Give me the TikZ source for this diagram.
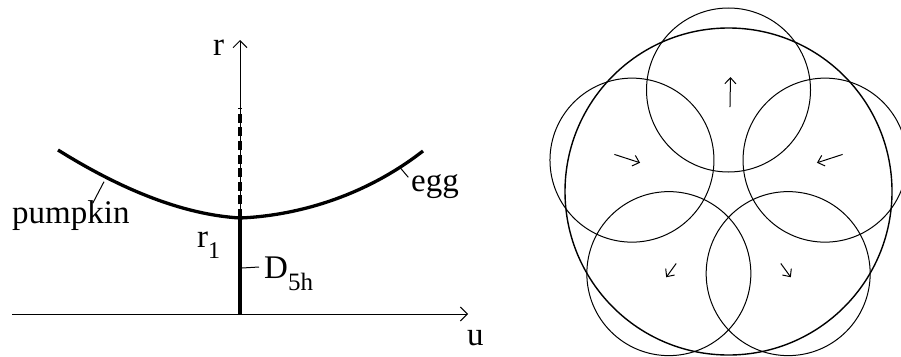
\documentclass[tikz,border=0pt]{standalone}
\usepackage{fontspec}
\setmainfont{Liberation Serif}
\usetikzlibrary{arrows.meta}
\tikzset{
  thinln/.style={line width=1pt},
  thickln/.style={line width=3.3pt},
  axisarrow/.style={thinln,-{Straight Barb[length=7pt,width=14pt]}},
  modearrow/.style={thinln,-{Straight Barb[length=6pt,width=11pt]}},
  lbl/.style={inner sep=0pt,anchor=base west,font=\fontsize{33}{40}\selectfont},
  smallcirc/.style={line width=1pt},
  bigcirc/.style={line width=1.4pt}
}
\begin{document}
\begin{tikzpicture}[x=1pt,y=-1pt]
\useasboundingbox (0,0) rectangle (901,356);
\clip (0,0) rectangle (901,356);
% ---------- left panel ----------
\coordinate (O) at (240,314);
\coordinate (rtop) at (240,40);
\coordinate (ustart) at (12,314);
\coordinate (uend) at (468,314);
\coordinate (m) at (240,218);
\coordinate (dtop) at (240,108);
\coordinate (L) at (58,150);
\coordinate (R) at (423,151);
\draw[axisarrow] (ustart) -- (uend);
\draw[axisarrow] (O) -- (rtop);
\draw[thickln] (O) -- (m);
\draw[thickln,dash pattern=on 9pt off 4.6pt] (m) -- (dtop);
\draw[thickln,line join=round] (L) .. controls (130,195) and (190,215) .. (m)
   .. controls (290,216) and (360,200) .. (R);
% labels
\node[lbl] (rl) at (213,55) {r};
\node[lbl] (ul) at (467,345) {u};
\node[lbl] (pk) at (12,223) {pumpkin};
\node[lbl] (eg) at (411,191) {egg};
\node[lbl] (r1) at (197,247) {r\raisebox{-11pt}{\fontsize{24}{24}\selectfont 1}};
\node[lbl] (d5h) at (264,278) {D\raisebox{-12pt}{\fontsize{25}{25}\selectfont 5h}};
% leader ticks
\coordinate (pkc) at (104,181.7);
\coordinate (pkt) at (92.7,203.3);
\coordinate (egc) at (400.7,168.3);
\coordinate (egt) at (408.3,177.3);
\coordinate (dc) at (242,268);
\coordinate (dt) at (259,267);
\draw[thinln] (pkc) -- (pkt);
\draw[thinln] (egc) -- (egt);
\draw[thinln] (dc) -- (dt);
% ---------- right panel ----------
\coordinate (C) at (728.5,191.5);
\draw[bigcirc] (C) circle[radius=163.5];
\begin{scope}[shift={(728.5,191.5)}]
  \foreach \a/\n in {-90/ct,-162/cl,126/cbl,54/cbr,-18/cr}{
    \coordinate (\n) at (\a:101.5);
    \draw[smallcirc] (\n) circle[radius=82];
  }
  \coordinate (a1s) at (-89:84.5);  \coordinate (a1e) at (-89:114.5);
  \coordinate (a2s) at (-162:120); \coordinate (a2e) at (-162:93);
  \coordinate (a3s) at (-18:120);  \coordinate (a3e) at (-18:93);
  \coordinate (a4s) at (126:89);   \coordinate (a4e) at (126:106);
  \coordinate (a5s) at (54:89);    \coordinate (a5e) at (54:106);
  \draw[modearrow] (a1s) -- (a1e);
  \draw[modearrow] (a2s) -- (a2e);
  \draw[modearrow] (a3s) -- (a3e);
  \draw[modearrow] (a4s) -- (a4e);
  \draw[modearrow] (a5s) -- (a5e);
\end{scope}
\end{tikzpicture}
\end{document}
